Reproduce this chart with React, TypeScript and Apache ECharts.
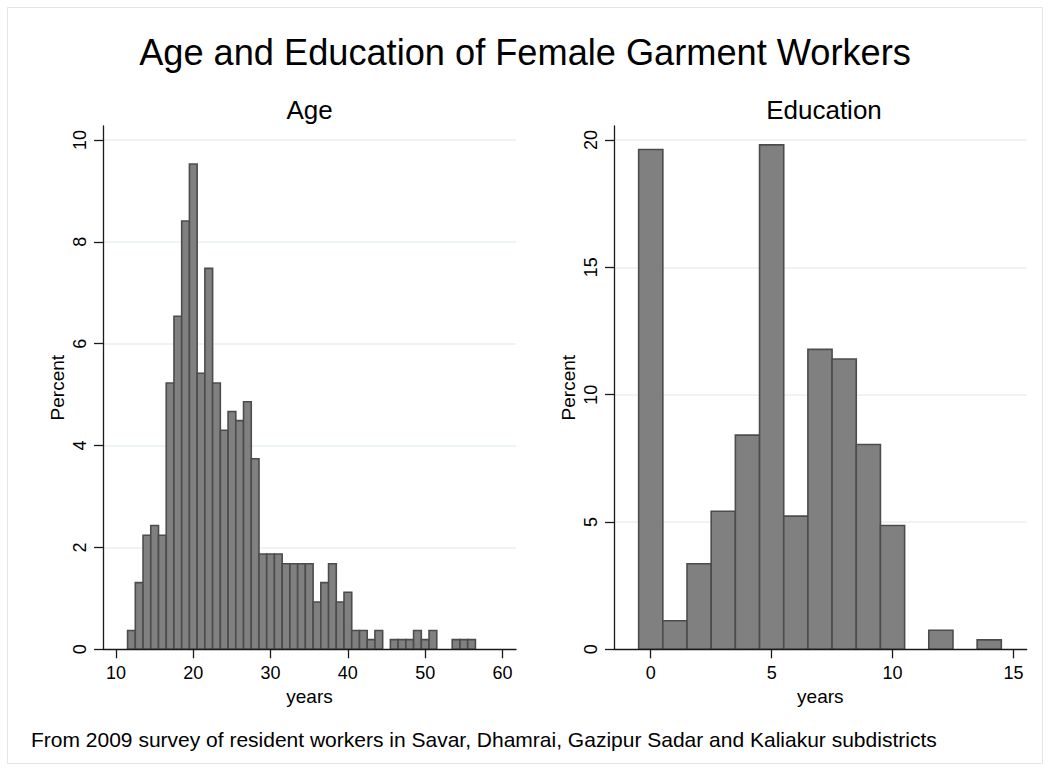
import React, { useEffect, useRef } from "react";
import * as echarts from "echarts";

// ---------- data ----------
const ageYears = [12, 13, 14, 15, 16, 17, 18, 19, 20, 21, 22, 23, 24, 25, 26, 27, 28, 29, 30, 31, 32, 33, 34, 35, 36, 37, 38, 39, 40, 41, 42, 43, 44, 45, 46, 47, 48, 49, 50, 51, 52, 53, 54, 55, 56];
const agePercent = [0.37, 1.31, 2.24, 2.43, 2.24, 5.23, 6.54, 8.41, 9.53, 5.42, 7.48, 5.23, 4.3, 4.67, 4.49, 4.86, 3.74, 1.87, 1.87, 1.87, 1.68, 1.68, 1.68, 1.68, 0.93, 1.31, 1.68, 0.93, 1.12, 0.37, 0.37, 0.19, 0.37, 0, 0.19, 0.19, 0.19, 0.37, 0.19, 0.37, 0, 0, 0.19, 0.19, 0.19];

const eduYears = [0, 1, 2, 3, 4, 5, 6, 7, 8, 9, 10, 11, 12, 13, 14];
const eduPercent = [19.63, 1.12, 3.36, 5.42, 8.41, 19.81, 5.23, 11.78, 11.4, 8.04, 4.86, 0, 0.75, 0, 0.37];

const ageXTicks = [10, 20, 30, 40, 50, 60];
const ageYTicks = [0, 2, 4, 6, 8, 10];
const eduXTicks = [0, 5, 10, 15];
const eduYTicks = [0, 5, 10, 15, 20];

const mainTitle = "Age and Education of Female Garment Workers";
const ageTitle = "Age";
const eduTitle = "Education";
const xName = "years";
const yName = "Percent";
const footNote = "From 2009 survey of resident workers in Savar, Dhamrai, Gazipur Sadar and Kaliakur subdistricts";

// ---------- styles ----------
const FONT = '"Liberation Sans", Arial, Helvetica, sans-serif';
const BIN = 1;
const BAR_FILL = "#808080";
const BAR_STROKE = "#4c4c4c";
const GRID_COLOR = "#e8f0f2";
const AXIS_COLOR = "#1a1a1a";

function histSeries(gridIdx: number, xs: number[], ys: number[]) {
  return {
    type: "custom",
    xAxisIndex: gridIdx,
    yAxisIndex: gridIdx,
    z: 10,
    data: xs.map((x, i) => [x, ys[i]]),
    renderItem: (params: any, api: any) => {
      const x = api.value(0);
      const y = api.value(1);
      if (!y) return { type: "group", children: [] };
      const p0 = api.coord([x - BIN / 2, y]);
      const p1 = api.coord([x + BIN / 2, 0]);
      return {
        type: "rect",
        shape: { x: p0[0], y: p0[1], width: p1[0] - p0[0], height: p1[1] - p0[1] },
        style: { fill: BAR_FILL, stroke: BAR_STROKE, lineWidth: 1.6 },
      };
    },
  };
}

function gridLineSeries(gridIdx: number, ticks: number[]) {
  return {
    type: "line",
    xAxisIndex: gridIdx,
    yAxisIndex: gridIdx,
    data: [],
    z: 1,
    silent: true,
    markLine: {
      z: 1,
      silent: true,
      symbol: "none",
      animation: false,
      label: { show: false },
      lineStyle: { color: GRID_COLOR, width: 1.5, type: "solid" },
      data: ticks.filter((t) => t !== 0).map((t) => ({ yAxis: t })),
    },
  };
}

function xAxisCfg(gridIdx: number, min: number, max: number, ticks: number[]) {
  return {
    type: "value",
    gridIndex: gridIdx,
    min,
    max,
    z: 12,
    name: xName,
    nameLocation: "middle",
    nameGap: 30,
    nameTextStyle: { fontSize: 19, color: "#000", fontFamily: FONT },
    axisLine: { show: true, onZero: false, lineStyle: { color: AXIS_COLOR, width: 1.3 } },
    axisTick: { show: true, inside: false, length: 9, customValues: ticks, lineStyle: { color: AXIS_COLOR, width: 1.3 } },
    axisLabel: { customValues: ticks, fontSize: 18, color: "#000", margin: 15, fontFamily: FONT },
    splitLine: { show: false },
  };
}

function yAxisCfg(gridIdx: number, max: number, ticks: number[]) {
  return {
    type: "value",
    gridIndex: gridIdx,
    min: 0,
    max,
    z: 12,
    name: yName,
    nameLocation: "middle",
    nameRotate: 90,
    nameGap: 36,
    nameTextStyle: { fontSize: 19, color: "#000", fontFamily: FONT },
    axisLine: { show: true, onZero: false, lineStyle: { color: AXIS_COLOR, width: 1.3 } },
    axisTick: { show: true, inside: false, length: 9, customValues: ticks, lineStyle: { color: AXIS_COLOR, width: 1.3 } },
    axisLabel: { customValues: ticks, rotate: 90, fontSize: 18, color: "#000", margin: 14, fontFamily: FONT },
    splitLine: { show: false },
  };
}

export default function App() {
  const ref = useRef<HTMLDivElement>(null);

  useEffect(() => {
    if (!ref.current) return;
    const chart = echarts.init(ref.current, null, { renderer: "svg" });
    const option: any = {
      animation: false,
      backgroundColor: "#ffffff",
      textStyle: { fontFamily: FONT },
      grid: [
        { left: 103, top: 126, width: 413, height: 523.3 },
        { left: 614, top: 126, width: 412.7, height: 523.3 },
      ],
      xAxis: [xAxisCfg(0, 8.32, 61.75, ageXTicks), xAxisCfg(1, -1.52, 15.55, eduXTicks)],
      yAxis: [yAxisCfg(0, 10.275, ageYTicks), yAxisCfg(1, 20.55, eduYTicks)],
      series: [
        gridLineSeries(0, ageYTicks),
        gridLineSeries(1, eduYTicks),
        histSeries(0, ageYears, agePercent),
        histSeries(1, eduYears, eduPercent),
      ],
      graphic: [
        {
          type: "rect",
          z: -10,
          shape: { x: 7.5, y: 7.5, width: 1035, height: 756 },
          style: { fill: "none", stroke: "#e4e4e4", lineWidth: 1 },
        },
        {
          type: "text",
          x: 525,
          y: 52,
          style: { text: mainTitle, fontSize: 36.2, fontFamily: FONT, fill: "#000", align: "center", verticalAlign: "middle" },
        },
        {
          type: "text",
          x: 309.5,
          y: 110,
          style: { text: ageTitle, fontSize: 26, fontFamily: FONT, fill: "#000", align: "center", verticalAlign: "middle" },
        },
        {
          type: "text",
          x: 824,
          y: 110,
          style: { text: eduTitle, fontSize: 26, fontFamily: FONT, fill: "#000", align: "center", verticalAlign: "middle" },
        },
        {
          type: "text",
          x: 31,
          y: 739,
          style: { text: footNote, fontSize: 21, fontFamily: FONT, fill: "#000", align: "left", verticalAlign: "middle" },
        },
      ],
    };
    chart.setOption(option);
    return () => chart.dispose();
  }, []);

  return (
    <div
      ref={ref}
      style={{ position: "absolute", left: 0, top: 0, width: 1050, height: 771 }}
    />
  );
}
